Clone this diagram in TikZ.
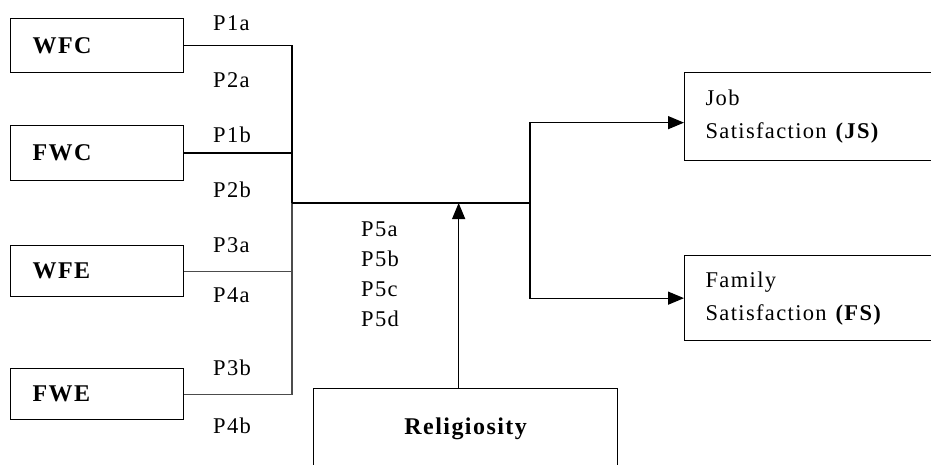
\documentclass[tikz,border=0pt]{standalone}
\usepackage{fontspec}
\setmainfont{Liberation Serif}[LetterSpace=6]
\usetikzlibrary{arrows.meta,positioning,calc}

\begin{document}
\begin{tikzpicture}[
  x=1pt,y=-1pt,
  srcbox/.style={rectangle,draw,line width=1.3pt,anchor=north west,text width=129pt,
    inner xsep=22pt,minimum height=#1,align=left,font=\bfseries\fontsize{24}{28}\selectfont},
  outbox/.style={rectangle,draw,line width=1.3pt,anchor=north west,text width=260pt,
    inner xsep=21pt,minimum height=#1,align=left,font=\fontsize{22.5}{33}\selectfont},
  link/.style={line width=1.3pt},
  linkgray/.style={link,draw=black!70},
  arr/.style={link,-{Triangle[length=16pt,width=13pt]}},
  plabel/.style={anchor=west,inner sep=0pt,font=\fontsize{22.5}{30}\selectfont},
]
  \useasboundingbox (0,0) rectangle (931,465);
  \clip (0,0) rectangle (931,465);
  \node[srcbox=54pt] (wfc) at (10,18) {WFC};
  \node[srcbox=55pt] (fwc) at (10,125) {FWC};
  \node[srcbox=51pt] (wfe) at (10,245) {WFE};
  \node[srcbox=51pt] (fwe) at (10,368) {FWE};
  \node[outbox=88pt] (js) at (684,72) {Job\\Satisfaction \textbf{(JS)}};
  \node[outbox=85pt] (fs) at (684,255) {Family\\Satisfaction \textbf{(FS)}};
  \node[rectangle,draw,line width=1.3pt,anchor=north west,minimum width=304pt,minimum height=80pt,
    font=\bfseries\fontsize{24}{28}\selectfont] (rel) at (313,388) {Religiosity};
  \foreach \lab/\y in {P1a/23,P2a/80,P1b/135,P2b/190,P3a/245,P4a/295,P3b/368,P4b/426}
    \node[plabel] (\lab) at (213,\y) {\lab};
  \node[plabel,align=left,anchor=north west] (p5) at (361,222) {P5a\\P5b\\P5c\\P5d};
  \coordinate (bus) at (292,203);
  \coordinate (split) at (530,203);
  \draw[link] (wfc.east) -| (bus);
  \draw[link] (fwc.east) -- (fwc.east -| bus);
  \draw[linkgray] (wfe.east) -- (wfe.east -| bus);
  \draw[linkgray] (fwe.east) -| (bus);
  \draw[link] (bus) -- (split);
  \draw[arr] (split) |- ([yshift=-6pt]js.west);
  \draw[arr] (split) |- (fs.west);
  \draw[arr] ([xshift=-7pt]rel.north) -- ([xshift=-7pt]rel.north |- split);
\end{tikzpicture}
\end{document}
